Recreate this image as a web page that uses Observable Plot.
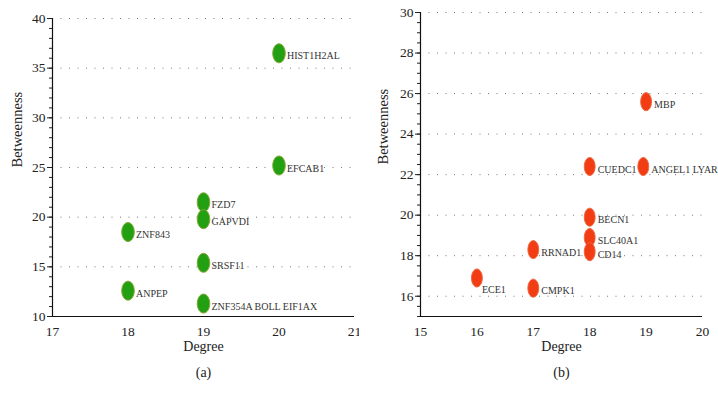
<!DOCTYPE html>
<html><head><meta charset="utf-8">
<script src="https://cdn.jsdelivr.net/npm/d3@7"></script>
<script src="https://cdn.jsdelivr.net/npm/@observablehq/plot@0.6"></script>
<style>
body{margin:0;background:#fff;}
#wrap{display:flex;width:718px;height:400px;overflow:hidden;}
#wrap svg{overflow:visible;font-family:"Liberation Serif", serif !important;}
#wrap svg text{font-family:"Liberation Serif", serif !important;}
</style></head><body><div id="wrap"></div>
<script>
// Panel (a)
const genesA = ["HIST1H2AL","EFCAB1","FZD7","GAPVDI","ZNF843","SRSF11","ANPEP","ZNF354A BOLL EIF1AX"];
const degreeA = [20, 20, 19, 19, 18, 19, 18, 19];
const betweenA = [36.5, 25.2, 21.5, 19.8, 18.5, 15.4, 12.6, 11.3];
const xTicksA = [17, 18, 19, 20, 21];
const yTicksA = [10, 15, 20, 25, 30, 35, 40];
const yMinorA = [10,11,12,13,14,15,16,17,18,19,20,21,22,23,24,25,26,27,28,29,30,31,32,33,34,35,36,37,38,39,40];

// Panel (b)
const genesB = ["MBP","CUEDC1","ANGEL1 LYAR","BECN1","SLC40A1","CD14","RRNAD1","ECE1","CMPK1"];
const degreeB = [19, 18, 18.95, 18, 18, 18, 17, 16, 17];
const betweenB = [25.6, 22.4, 22.4, 19.9, 18.9, 18.2, 18.3, 16.9, 16.4];
const xTicksB = [15, 16, 17, 18, 19, 20];
const yTicksB = [16, 18, 20, 22, 24, 26, 28, 30];
const yMinorB = [15,15.5,16,16.5,17,17.5,18,18.5,19,19.5,20,20.5,21,21.5,22,22.5,23,23.5,24,24.5,25,25.5,26,26.5,27,27.5,28,28.5,29,29.5,30];
const labelsBelowB = ["ECE1"];

function ellipse(ratio) {
  return {
    draw(ctx, size) {
      const ry = Math.sqrt(size / Math.PI), rx = ry * ratio, k = 0.5523;
      ctx.moveTo(0, -ry);
      ctx.bezierCurveTo(k * rx, -ry, rx, -k * ry, rx, 0);
      ctx.bezierCurveTo(rx, k * ry, k * rx, ry, 0, ry);
      ctx.bezierCurveTo(-k * rx, ry, -rx, k * ry, -rx, 0);
      ctx.bezierCurveTo(-rx, -k * ry, -k * rx, -ry, 0, -ry);
      ctx.closePath();
    }
  };
}

function panel(o) {
  const data = o.genes.map((g, i) => ({gene: g, degree: o.degree[i], between: o.between[i]}));
  const below = o.below || [];
  const font = "Liberation Serif";
  return Plot.plot({
    width: o.width, height: 400,
    marginLeft: o.marginLeft, marginRight: o.marginRight, marginTop: o.marginTop, marginBottom: 84,
    style: {fontFamily: font, fontSize: "13px", color: "#222", background: "white", overflow: "visible"},
    x: {domain: o.xDomain},
    y: {domain: o.yDomain},
    marks: [
      Plot.gridY(o.yTicks.filter(t => t > o.yDomain[0]), {stroke: "#777", strokeOpacity: 1, strokeWidth: 1, strokeDasharray: "1,7.5"}),
      Plot.axisY(o.yMinor, {tickSize: 3, tickFormat: () => "", label: null}),
      Plot.axisY(o.yTicks, {tickSize: 5, tickPadding: 2, label: null, fontSize: 13.5, fontFamily: font}),
      Plot.axisX(o.xTicks, {tickSize: 0, tickPadding: 10, label: null, fontSize: 13.5, fontFamily: font}),
      Plot.ruleX([o.xDomain[0]], {stroke: "#111", strokeWidth: 1.2}),
      Plot.ruleY([o.yDomain[0]], {stroke: "#111", strokeWidth: 1.2}),
      Plot.dot(data, {x: "degree", y: "between", r: o.r, symbol: ellipse(o.ratio), fill: o.fill, stroke: o.stroke, strokeWidth: 1}),
      Plot.text(data.filter(d => !below.includes(d.gene)), {x: "degree", y: "between", text: "gene", textAnchor: "start", dx: 8, dy: 3, fontSize: 10, fontFamily: font, fill: "#333"}),
      Plot.text(data.filter(d => below.includes(d.gene)), {x: "degree", y: "between", text: "gene", textAnchor: "start", dx: 5, dy: 12, fontSize: 10, fontFamily: font, fill: "#333"}),
      Plot.text(["Degree"], {text: d => d, frameAnchor: "bottom", dy: 34, fontSize: 14, fontFamily: font, fill: "#222"}),
      Plot.text([o.caption], {text: d => d, frameAnchor: "bottom", dy: 60, fontSize: 14, fontFamily: font, fill: "#222"}),
      Plot.text(["Betweenness"], {text: d => d, frameAnchor: "left", rotate: -90, dx: o.ylabelDx, fontSize: 14.5, fontFamily: font, fill: "#222"})
    ]
  });
}

const wrap = document.getElementById("wrap");
wrap.append(panel({
  genes: genesA, degree: degreeA, between: betweenA,
  xDomain: [17, 21], yDomain: [10, 40], xTicks: xTicksA, yTicks: yTicksA, yMinor: yMinorA,
  width: 359, marginLeft: 52, marginRight: 5, marginTop: 18,
  r: 9.5, ratio: 0.66, fill: "#22a011", stroke: "#86a83a", caption: "(a)", ylabelDx: -35
}));
wrap.append(panel({
  genes: genesB, degree: degreeB, between: betweenB, below: labelsBelowB,
  xDomain: [15, 20], yDomain: [15, 30], xTicks: xTicksB, yTicks: yTicksB, yMinor: yMinorB,
  width: 359, marginLeft: 61, marginRight: 16, marginTop: 12,
  r: 9, ratio: 0.6, fill: "#f23d14", stroke: "#f0643e", caption: "(b)", ylabelDx: -37
}));
</script></body></html>
